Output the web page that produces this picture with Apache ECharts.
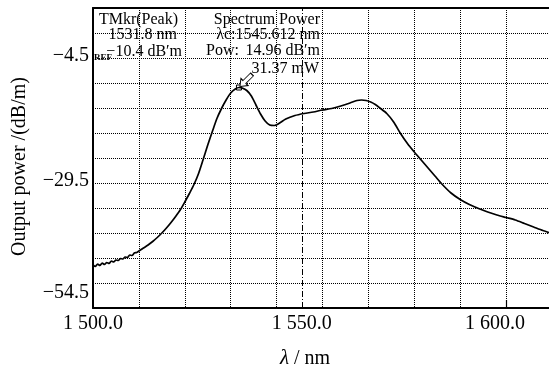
<!DOCTYPE html>
<html>
<head>
<meta charset="utf-8">
<script src="https://cdn.jsdelivr.net/npm/echarts@6/dist/echarts.min.js"></script>
<style>
html,body{margin:0;padding:0;background:#fff;}
#chart{width:549px;height:372px;}
</style>
</head>
<body>
<div id="chart"></div>
<script>
// ---- data ----
const wavelengths = [1500.0,1500.5,1501.0,1501.5,1502.0,1502.5,1503.0,1503.5,1504.0,1504.5,1505.0,1505.5,1506.0,1506.5,1507.0,1507.5,1508.0,1508.5,1509.0,1509.5,1510.0,1511.0,1512.0,1513.0,1514.0,1515.0,1516.0,1517.0,1518.0,1519.0,1520.0,1521.0,1522.0,1523.0,1524.0,1525.0,1526.0,1527.0,1528.0,1529.0,1530.0,1531.0,1531.8,1532.5,1533.5,1534.5,1535.5,1536.5,1537.5,1538.5,1539.5,1540.5,1542.0,1544.0,1546.0,1548.0,1550.0,1552.0,1554.0,1556.0,1557.5,1558.5,1559.5,1560.5,1561.5,1562.5,1564.0,1565.5,1567.0,1568.5,1570.0,1571.5,1573.0,1574.5,1576.0,1578.0,1580.0,1582.0,1584.0,1586.0,1588.0,1590.0,1592.0,1594.0,1596.0,1598.0,1600.0];
const powers = [-45.9,-46.2,-45.7,-46.0,-45.5,-45.8,-45.4,-45.6,-45.1,-45.3,-44.9,-45.0,-44.6,-44.7,-44.3,-44.4,-43.9,-44.0,-43.5,-43.4,-43.1,-42.5,-41.9,-41.2,-40.4,-39.5,-38.5,-37.4,-36.2,-34.9,-33.3,-31.6,-29.8,-27.6,-24.8,-21.9,-19.2,-16.6,-14.6,-12.9,-11.5,-10.7,-10.4,-10.5,-11.0,-12.1,-13.9,-15.7,-17.1,-17.9,-18.0,-17.6,-16.7,-16.0,-15.6,-15.3,-14.9,-14.6,-14.1,-13.5,-13.0,-12.9,-13.0,-13.3,-13.8,-14.5,-15.6,-17.3,-19.6,-21.6,-23.3,-24.9,-26.5,-28.1,-29.7,-31.5,-32.8,-33.8,-34.6,-35.3,-35.9,-36.4,-36.9,-37.6,-38.3,-39.0,-39.6];

const peakMarker = [1531.8, -10.4];
const centerWavelength = 1545.612;

const xTickValues = [1500, 1545.5, 1587.6];
const xTickLabels = ['1 500.0', '1 550.0', '1 600.0'];
const xTickMarks = [1590];
const yTickValues = [-4.0, -29.1, -51.5];
const yTickLabels = ['\u22124.5', '\u221229.5', '\u221254.5'];

const markerTexts = ['TMkr(Peak)', '1531.8 nm', '\u221210.4 dB\u2032m'];
const powerTexts = ['Spectrum Power', '\u03bbc:1545.612 nm', 'Pow:', '14.96 dB\u2032m', '31.37 mW'];

// ---- chart ----
const FONT = '"Liberation Serif", "DejaVu Serif", serif';
const chart = echarts.init(document.getElementById('chart'), null, {renderer: 'canvas'});
const seriesData = wavelengths.map((w, i) => [w, powers[i]]);
const gridLine = {show: true, lineStyle: {color: '#000', width: 1, type: [1, 1]}};

function txt(text, x, y, align, size, weight) {
  return {type: 'text', x: x, y: y, z: 100,
    style: {text: text, fill: '#000', font: (weight || 'normal') + ' ' + (size || 16) + 'px ' + FONT,
      textAlign: align || 'left', textVerticalAlign: 'middle'}};
}

chart.setOption({
  animation: false,
  backgroundColor: '#fff',
  grid: {left: 93, right: -3, top: 8, bottom: 64, containLabel: false, outerBoundsMode: 'none'},
  xAxis: [{
    type: 'value', min: 1500, max: 1600, interval: 10, position: 'bottom',
    axisLine: {show: true, onZero: false, lineStyle: {color: '#000', width: 2}},
    axisTick: {show: false},
    splitLine: gridLine,
    axisLabel: {
      customValues: xTickValues, color: '#000', fontFamily: FONT, fontSize: 20, margin: 6,
      formatter: function (v) { const i = xTickValues.indexOf(v); return i >= 0 ? xTickLabels[i] : ''; }
    },
    name: '{i|\u03bb} / nm', nameLocation: 'middle', nameGap: 40,
    nameTextStyle: {color: '#000', fontFamily: FONT, fontSize: 20, padding: [0, 35, 0, 0],
      rich: {i: {fontStyle: 'italic', fontFamily: FONT, fontSize: 21, color: '#000'}}}
  }, {
    type: 'value', min: 1500, max: 1600, position: 'bottom',
    axisLine: {show: false, onZero: false},
    axisTick: {show: true, inside: true, length: 8, customValues: xTickMarks,
      lineStyle: {color: '#000', width: 1.2}},
    axisLabel: {show: false}, splitLine: {show: false}
  }, {
    type: 'value', min: 1500, max: 1600, position: 'top',
    axisLine: {show: true, onZero: false, lineStyle: {color: '#000', width: 2}},
    axisTick: {show: false}, axisLabel: {show: false}, splitLine: {show: false}
  }],
  yAxis: [{
    type: 'value', min: -54.5, max: 5.5, position: 'left',
    axisLine: {show: true, onZero: false, lineStyle: {color: '#000', width: 2}},
    axisTick: {show: false},
    splitLine: {show: false},
    axisLabel: {
      customValues: yTickValues, color: '#000', fontFamily: FONT, fontSize: 20, margin: 4,
      formatter: function (v) { const i = yTickValues.indexOf(v); return i >= 0 ? yTickLabels[i] : ''; }
    },
    name: 'Output power /(dB/m)', nameLocation: 'middle', nameGap: 63,
    nameTextStyle: {color: '#000', fontFamily: FONT, fontSize: 20, padding: [0, 17, 0, 0]}
  }, {
    type: 'value', min: 0, max: 60, interval: 5, position: 'right',
    axisLine: {show: false, onZero: false}, axisTick: {show: false}, axisLabel: {show: false},
    splitLine: gridLine
  }],
  series: [{
    type: 'line', xAxisIndex: 0, yAxisIndex: 0,
    data: seriesData, showSymbol: false, smooth: 0.25, z: 5,
    lineStyle: {color: '#000', width: 1.7},
    markLine: {
      silent: true, symbol: ['none', 'none'], label: {show: false},
      lineStyle: {color: '#000', width: 1, type: [6, 2, 1, 2]},
      data: [{xAxis: centerWavelength}]
    },
    markPoint: {
      silent: true, label: {show: false},
      data: [
        {coord: peakMarker, symbol: 'rect', symbolSize: 5,
          itemStyle: {color: 'rgba(255,255,255,0)', borderColor: '#000', borderWidth: 1}},
        {coord: peakMarker, symbol: 'path://M4.5,0 L9,6 L6.3,6 L6.3,16 L2.7,16 L2.7,6 L0,6 Z',
          symbolSize: [10, 17], symbolRotate: 135, symbolOffset: [7, -7], symbolKeepAspect: false,
          itemStyle: {color: '#fff', borderColor: '#000', borderWidth: 1}}
      ]
    }
  }],
  graphic: [
    txt(markerTexts[0], 178, 20, 'right'),
    txt(markerTexts[1], 177, 35, 'right'),
    txt(markerTexts[2], 182, 52, 'right'),
    txt('REF', 94, 58, 'left', 9, 'bold'),
    txt(powerTexts[0], 320, 20, 'right'),
    txt(powerTexts[1], 320, 35, 'right'),
    txt(powerTexts[2], 206, 51, 'left'),
    txt(powerTexts[3], 320, 51, 'right'),
    txt(powerTexts[4], 319, 69, 'right')
  ]
});
</script>
</body>
</html>
